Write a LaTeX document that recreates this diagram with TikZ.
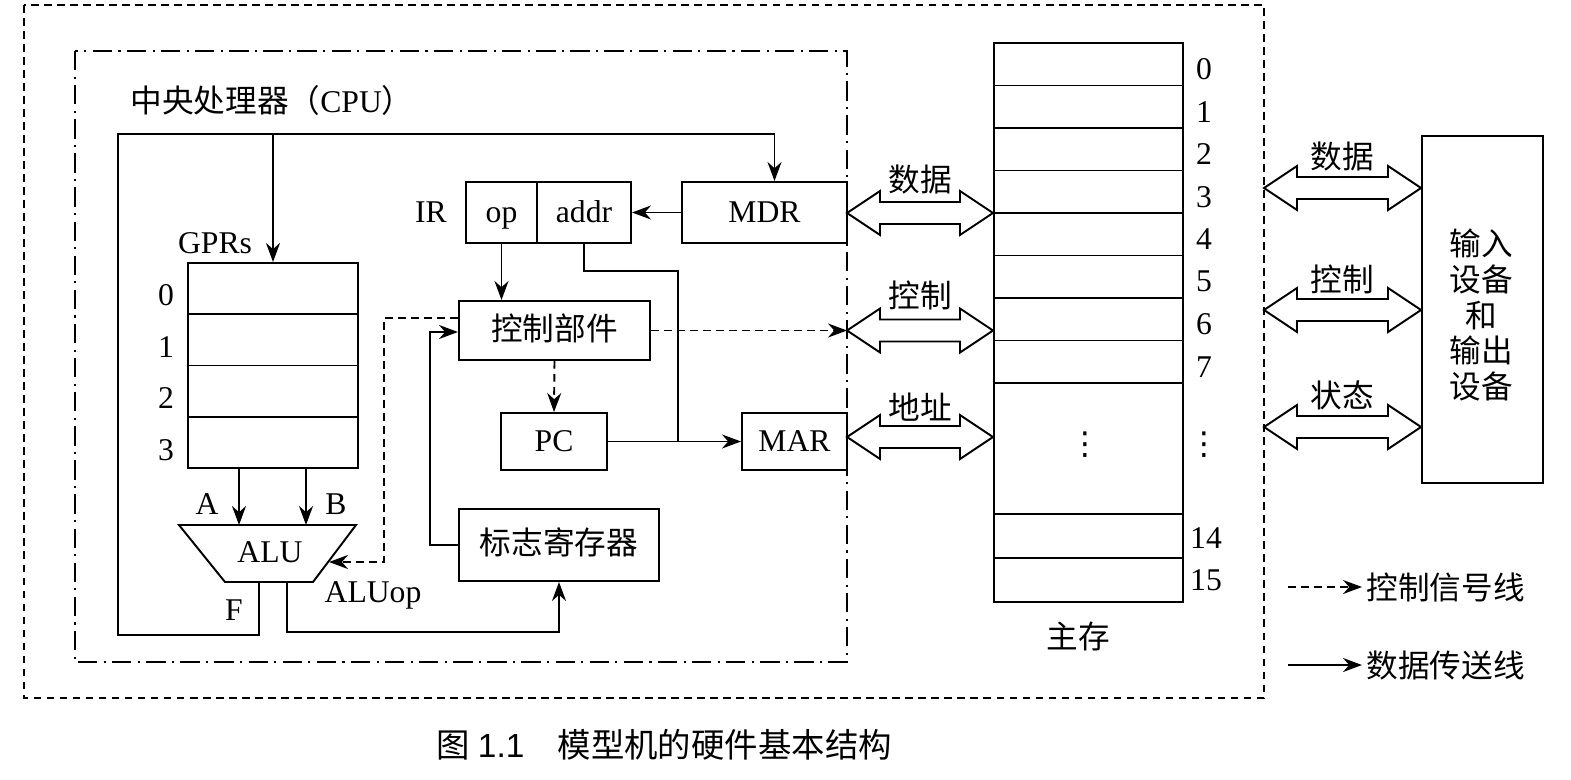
\documentclass[tikz,border=0pt]{standalone}
\usepackage{fontspec}
\setmainfont{Liberation Serif}
\newfontfamily\cjk{Noto Sans CJK SC}
\newfontfamily\capfont{Liberation Sans}
\newfontfamily\symfont{DejaVu Sans}
\usetikzlibrary{arrows.meta,calc}
\tikzset{
  reg/.style={draw, inner sep=1pt, text height=0.75em, text depth=0.2em, font=\fontsize{9}{10.8}\selectfont},
  lbl/.style={inner sep=1pt, font=\fontsize{9}{10.8}\selectfont},
  zh/.style={inner sep=1pt, font=\cjk\fontsize{9}{10.8}\selectfont},
  dline/.style={-{Stealth[length=1.9mm, width=1.4mm]}},
  cline/.style={-{Stealth[length=1.9mm, width=1.4mm]}, dash pattern=on 2.2pt off 1.5pt},
  outerbox/.style={dash pattern=on 2.2pt off 1.5pt},
  cpubox/.style={dash pattern=on 5.5pt off 1.8pt on 0.6pt off 1.8pt},
}
% double-headed bus arrow between two tips on one level
\newcommand{\busarrow}[2]{%
  \draw (#1) -- ++(33,-22) -- ++(0,11) -- ($(#2)+(-33,-11)$) -- ++(0,-11) -- (#2)
    -- ++(-33,22) -- ++(0,-11) -- ($(#1)+(33,11)$) -- ++(0,11) -- cycle;}
\begin{document}
\begin{tikzpicture}[x=0.01cm, y=-0.01cm, line width=0.55pt]
  \useasboundingbox (0,0) rectangle (1571,779);
  % frames
  \draw[outerbox] (24,5) rectangle (1264,698);
  \draw[cpubox] (75,51) rectangle (847,662);
  \node[lbl, anchor=west] (cpulbl) at (126,100) {{\cjk 中央处理器（}CPU{\cjk ）}};

  % general purpose registers
  \node[reg, minimum width=1.7cm, minimum height=2.05cm] (gpr) at (273,365.5) {};
  \foreach \i in {1,2,3}
    \draw ($(gpr.north west)!\i/4!(gpr.south west)$) -- ($(gpr.north east)!\i/4!(gpr.south east)$);
  \foreach \i in {0,...,3}
    \node[lbl] (g\i) at ($(gpr.north west)!{(\i+0.5)/4}!(gpr.south west)+(-21,7)$) {\i};
  \node[lbl] (gprlbl) at (215,243) {GPRs};

  % ALU
  \coordinate (alunw) at (179,525); \coordinate (alune) at (356,525);
  \coordinate (aluse) at (313,582); \coordinate (alusw) at (225,582);
  \draw (alunw) -- (alune) -- (aluse) -- (alusw) -- cycle;
  \node[lbl] (alu) at (270,552) {ALU};
  \coordinate (ain) at (239,525); \coordinate (bin) at (306,525);
  \draw[dline] (gpr.south -| ain) -- (ain);
  \draw[dline] (gpr.south -| bin) -- (bin);
  \node[lbl] (alab) at (207,504) {A};
  \node[lbl] (blab) at (336,504) {B};

  % CPU registers and units
  \node[reg, minimum width=0.71cm, minimum height=0.61cm] (op) at (501.5,212.5) {op};
  \node[reg, minimum width=0.94cm, minimum height=0.61cm] (addr) at (584,212.5) {addr};
  \node[lbl] (irlbl) at (431,212) {IR};
  \node[reg, minimum width=1.65cm, minimum height=0.61cm] (mdr) at (764.5,212.5) {MDR};
  \node[reg, minimum width=1.91cm, minimum height=0.59cm] (ctrl) at (554.5,330.5) {\cjk 控制部件};
  \node[reg, minimum width=1.06cm, minimum height=0.57cm] (pc) at (554,441.5) {PC};
  \node[reg, minimum width=1.05cm, minimum height=0.57cm] (mar) at (794.5,441.5) {MAR};
  \node[reg, minimum width=2.0cm, minimum height=0.72cm] (flags) at (559,545) {\cjk 标志寄存器};

  % result F back to GPRs and MDR
  \coordinate (fout) at (259,582);
  \coordinate (looptl) at (118,134);
  \draw[dline] (fout) -- ++(0,53) -| (looptl) -| ($(mdr.north)+(10,0)$);
  \draw[dline] (gpr.north |- looptl) -- (gpr.north);
  \node[lbl] (flab) at (234,610) {F};

  % ALU status to flags
  \coordinate (opout) at (287,582);
  \draw[dline] (opout) -- ++(0,50) -| (flags.south);
  \node[lbl] (aluop) at (373,595) {ALUop};

  % data paths inside CPU
  \draw[dline] (mdr.west) -- (addr.east);
  \draw[dline] (op.south) -- (op.south |- ctrl.north);
  \coordinate (addrbend) at (678,271);
  \draw (addr.south) |- (addrbend) -- (addrbend |- pc.east);
  \draw[dline] (pc.east) -- (mar.west);
  \coordinate (flbend) at (430,332);
  \draw[dline] (flags.west) -| (flbend) -- (ctrl.west |- flbend);

  % control signals
  \draw[cline] (ctrl.south) -- (pc.north);
  \coordinate (ctlbend) at (384,318); \coordinate (aluctl) at (329,562);
  \draw[cline] (ctrl.west |- ctlbend) -- (ctlbend) |- (aluctl);

  % main memory
  \node[reg, minimum width=1.89cm, minimum height=5.59cm] (mem) at (1088.5,322.5) {};
  \foreach \k in {1,...,8}
    \draw (mem.west |- 0,{43+42.5*\k}) -- (mem.east |- 0,{43+42.5*\k});
  \draw (mem.west |- 0,514) -- (mem.east |- 0,514);
  \draw (mem.west |- 0,558) -- (mem.east |- 0,558);
  \foreach \i in {0,...,7}
    \node[lbl] (m\i) at (1204,{43+42.5*(\i+0.5)+5}) {\i};
  \node[lbl, font=\symfont\fontsize{9}{10}\selectfont] (mdots) at (1204,445) {⋮};
  \node[lbl, font=\symfont\fontsize{9}{10}\selectfont] (mdotsin) at (1085,445) {⋮};
  \node[lbl] (m14) at (1206,538) {14};
  \node[lbl] (m15) at (1206,580) {15};
  \node[zh] (memlbl) at (1078,636) {主存};

  % buses CPU -- memory
  \coordinate (dbl) at (847,213); \coordinate (dbr) at (mem.west |- dbl);
  \coordinate (cbl) at (847,330.5); \coordinate (cbr) at (mem.west |- cbl);
  \coordinate (abl) at (847,437); \coordinate (abr) at (mem.west |- abl);
  \draw[cline] (ctrl.east) -- (cbl);
  \busarrow{dbl}{dbr} \busarrow{cbl}{cbr} \busarrow{abl}{abr}
  \node[zh] (dbus) at ($(dbl)!0.5!(dbr)+(0,-33)$) {数据};
  \node[zh] (cbus) at ($(cbl)!0.5!(cbr)+(0,-35)$) {控制};
  \node[zh] (abus) at ($(abl)!0.5!(abr)+(0,-30)$) {地址};

  % input / output
  \node[reg, minimum width=1.21cm, minimum height=3.47cm] (io) at (1482.5,309.5) {};
  \node[zh, align=center, font=\cjk\fontsize{9}{10.2}\selectfont] (iotxt) at (1481,315)
    {输入\\设备\\和\\输出\\设备};
  \coordinate (idl) at (1264,188); \coordinate (idr) at (io.west |- idl);
  \coordinate (icl) at (1264,310); \coordinate (icr) at (io.west |- icl);
  \coordinate (isl) at (1264,427); \coordinate (isr) at (io.west |- isl);
  \busarrow{idl}{idr} \busarrow{icl}{icr} \busarrow{isl}{isr}
  \node[zh] (iodbus) at ($(idl)!0.5!(idr)+(0,-31)$) {数据};
  \node[zh] (iocbus) at ($(icl)!0.5!(icr)+(0,-31)$) {控制};
  \node[zh] (iosbus) at ($(isl)!0.5!(isr)+(0,-32)$) {状态};

  % legend
  \node[zh, anchor=west] (lgctl) at (1362,587) {控制信号线};
  \node[zh, anchor=west] (lgdat) at (1362,665) {数据传送线};
  \coordinate (lgctlstart) at (1288,587); \coordinate (lgdatstart) at (1288,665);
  \draw[cline] (lgctlstart) -- (lgctl.west);
  \draw[dline] (lgdatstart) -- (lgdat.west);

  % caption
  \node[inner sep=1pt, font=\fontsize{9.5}{11}\selectfont] (caption) at (664,745)
    {{\cjk 图} {\capfont 1.1}\quad{\cjk 模型机的硬件基本结构}};
\end{tikzpicture}
\end{document}
